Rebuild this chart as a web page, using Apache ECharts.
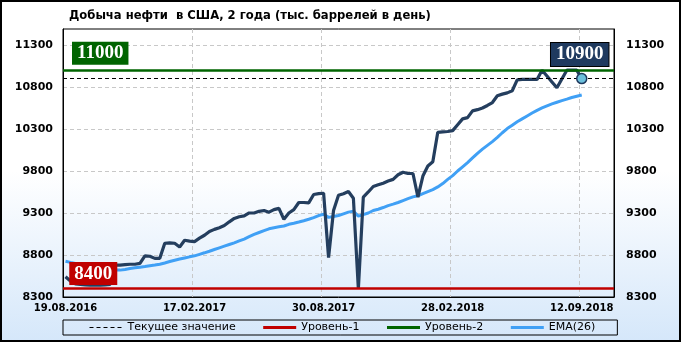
<!DOCTYPE html>
<html><head><meta charset="utf-8">
<script src="https://cdn.jsdelivr.net/npm/echarts@6/dist/echarts.min.js"></script>
<style>html,body{margin:0;padding:0;background:#fff}#c{width:681px;height:342px}</style>
</head><body><div id="c"></div>
<script>
const titleText = 'Добыча нефти  в США, 2 года (тыс. баррелей в день)';
const tickLabels = ['19.08.2016', '17.02.2017', '30.08.2017', '28.02.2018', '12.09.2018'];
const tickStep = 26;
const slotCount = 111;
const yTicks = [8300, 8800, 9300, 9800, 10300, 10800, 11300];
const yMin = 8300, yMax = 11490, yStep = 100;

const production = [
  8540, 8490, 8455, 8450, 8445, 8440, 8440, 8440, 8445, 8450,
  8680, 8680, 8685, 8690, 8690, 8700, 8790, 8785, 8760, 8760,
  8940, 8945, 8940, 8895, 8975, 8965, 8960, 9000, 9035, 9080,
  9105, 9125, 9150, 9195, 9235, 9255, 9265, 9300, 9300, 9320,
  9330, 9310, 9340, 9355, 9225, 9300, 9340, 9425, 9425, 9420,
  9520, 9530, 9535, 8770, 9330, 9510, 9530, 9555, 9475, 8395,
  9490, 9550, 9615, 9635, 9655, 9680, 9700, 9755, 9785, 9770,
  9770, 9490, 9740, 9860, 9910, 10260, 10265, 10270, 10280, 10350,
  10420, 10435, 10515, 10530, 10550, 10580, 10615, 10695, 10715, 10730,
  10755, 10885, 10890, 10890, 10890, 10890, 11000, 10930, 10860, 10790,
  10895, 11000, 11000, 11000, 10900
];
const ema26 = [
  8725, 8712, 8700, 8688, 8675, 8662, 8650, 8640, 8632, 8625,
  8620, 8620, 8628, 8638, 8647, 8655, 8663, 8672, 8680, 8690,
  8705, 8722, 8738, 8752, 8765, 8778, 8790, 8808, 8826, 8845,
  8865, 8885, 8905, 8925, 8945, 8968, 8990, 9018, 9045, 9068,
  9090, 9112, 9125, 9135, 9145, 9165, 9178, 9192, 9208, 9225,
  9245, 9270, 9285, 9248, 9258, 9270, 9290, 9310, 9322, 9262,
  9280, 9300, 9330, 9345, 9365, 9388, 9405, 9425, 9448, 9470,
  9492, 9505, 9530, 9555, 9578, 9610, 9650, 9700, 9745, 9800,
  9850, 9900, 9955, 10010, 10060, 10105, 10150, 10200, 10255, 10305,
  10345, 10385, 10420, 10455, 10490, 10522, 10550, 10575, 10598, 10618,
  10638, 10655, 10675, 10690, 10705
];
const currentValue = 10900;
const level1 = 8400;
const level2 = 11000;

const categories = Array.from({length: slotCount}, (_, i) =>
  (i % tickStep === 0 && tickLabels[i / tickStep]) ? tickLabels[i / tickStep] : String(i));

const lastIdx = production.length - 1;
const chart = echarts.init(document.getElementById('c'), null, {renderer: 'canvas'});

const C_DASH = '#000', C_RED = '#c00000', C_GREEN = '#006400', C_EMA = '#40a0f5', C_MAIN = '#243e5e', C_NAVY = '#1f3a5f';
const hiddenSym = {color: 'rgba(0,0,0,0)', borderWidth: 0, opacity: 0};

const yLabel = {
  color: '#000', fontFamily: 'DejaVu Sans', fontWeight: 'bold', fontSize: 11,
  formatter: v => yTicks.includes(v) ? String(v) : ''
};
const boxLabel = {
  show: true, position: 'inside', formatter: '{c}', color: '#fff',
  fontFamily: 'Liberation Serif', fontWeight: 'bold', fontSize: 19, lineHeight: 19, padding: [2, 5]
};

chart.setOption({
  animation: false,
  backgroundColor: {type: 'linear', x: 0, y: 0, x2: 0, y2: 1,
    colorStops: [{offset: 0, color: '#ffffff'}, {offset: 0.5, color: '#ffffff'}, {offset: 1, color: '#d5e7fa'}]},
  title: {
    text: titleText, left: 64, top: 5,
    textStyle: {fontFamily: 'DejaVu Sans', fontWeight: 'bold', fontSize: 11.6, color: '#000'}
  },
  grid: {left: 63, right: 67, top: 29, bottom: 45, show: true, borderColor: '#000', borderWidth: 1, backgroundColor: 'transparent'},
  legend: {
    data: [
      {name: 'Текущее значение', itemStyle: hiddenSym, lineStyle: {color: C_DASH, width: 1, type: [4, 3]}},
      {name: 'Уровень-1', itemStyle: hiddenSym, lineStyle: {color: C_RED, width: 3, type: 'solid'}},
      {name: 'Уровень-2', itemStyle: hiddenSym, lineStyle: {color: C_GREEN, width: 3, type: 'solid'}},
      {name: 'EMA(26)', itemStyle: hiddenSym, lineStyle: {color: C_EMA, width: 3, type: 'solid'}}
    ],
    itemStyle: hiddenSym,
    left: 63, top: 320, itemWidth: 33, itemHeight: 12, itemGap: 26,
    padding: [2, 22, 2, 26], borderColor: '#000', borderWidth: 1, selectedMode: false,
    textStyle: {fontFamily: 'DejaVu Sans', fontSize: 11, color: '#000'}
  },
  xAxis: {
    type: 'category', data: categories, boundaryGap: true,
    axisLine: {lineStyle: {color: '#000', width: 1}},
    axisTick: {show: false},
    axisLabel: {interval: tickStep - 1, color: '#000', fontFamily: 'DejaVu Sans', fontWeight: 'bold', fontSize: 10, margin: 6},
    splitLine: {show: true, interval: tickStep - 1, lineStyle: {color: '#c8c8c8', type: [4, 3]}}
  },
  yAxis: [
    {type: 'value', position: 'left', min: yMin, max: yMax, interval: yStep,
     axisLine: {show: true, lineStyle: {color: '#000'}}, axisTick: {show: false},
     axisLabel: Object.assign({margin: 10}, yLabel),
     splitLine: {show: true, lineStyle: {color: ['#c8c8c8', 'rgba(0,0,0,0)', 'rgba(0,0,0,0)', 'rgba(0,0,0,0)', 'rgba(0,0,0,0)'], type: [4, 3]}}},
    {type: 'value', position: 'right', min: yMin, max: yMax, interval: yStep,
     axisLine: {show: true, lineStyle: {color: '#000'}}, axisTick: {show: false},
     axisLabel: Object.assign({margin: 12}, yLabel),
     splitLine: {show: false}}
  ],
  series: [
    {name: 'Текущее значение', type: 'line', data: [], symbol: 'none', z: 2,
     itemStyle: {color: C_DASH}, lineStyle: {color: C_DASH, width: 1, type: [4, 3]},
     markLine: {silent: true, symbol: 'none', label: {show: false},
       lineStyle: {color: C_DASH, width: 1, type: [4, 3]}, data: [{yAxis: currentValue}]}},
    {name: 'Уровень-1', type: 'line', data: [], symbol: 'none', z: 2,
     itemStyle: {color: C_RED}, lineStyle: {color: C_RED, width: 3},
     markLine: {silent: true, symbol: 'none', label: {show: false},
       lineStyle: {color: C_RED, width: 2.5, type: 'solid'}, data: [{yAxis: level1}]},
     markPoint: {silent: true, symbol: 'rect', symbolSize: 1, itemStyle: {color: 'rgba(0,0,0,0)'},
       label: Object.assign({}, boxLabel, {backgroundColor: C_RED, offset: [-2, -15]}),
       data: [{coord: [6, level1], value: level1}]}},
    {name: 'Уровень-2', type: 'line', data: [], symbol: 'none', z: 2,
     itemStyle: {color: C_GREEN}, lineStyle: {color: C_GREEN, width: 3},
     markLine: {silent: true, symbol: 'none', label: {show: false},
       lineStyle: {color: C_GREEN, width: 2.5, type: 'solid'}, data: [{yAxis: level2}]},
     markPoint: {silent: true, symbol: 'rect', symbolSize: 1, itemStyle: {color: 'rgba(0,0,0,0)'},
       label: Object.assign({}, boxLabel, {backgroundColor: C_GREEN, offset: [0, -17]}),
       data: [{coord: [7, level2], value: level2}]}},
    {name: 'EMA(26)', type: 'line', data: ema26, symbol: 'none', z: 3,
     itemStyle: {color: C_EMA}, lineStyle: {color: C_EMA, width: 3}},
    {name: 'Добыча', type: 'line', data: production, symbol: 'none', z: 4,
     itemStyle: {color: C_MAIN}, lineStyle: {color: C_MAIN, width: 3.2},
     markPoint: {silent: true, symbol: 'circle', symbolSize: 10,
       itemStyle: {color: '#6cc0dc', borderColor: C_NAVY, borderWidth: 1.5},
       label: Object.assign({}, boxLabel, {backgroundColor: C_NAVY, borderColor: '#000', borderWidth: 1, offset: [-2, -24]}),
       data: [{coord: [lastIdx, production[lastIdx]], value: production[lastIdx]}]}}
  ],
  graphic: [{type: 'rect', silent: true, z: 100,
    shape: {x: 1, y: 1, width: 679, height: 340},
    style: {fill: 'none', stroke: '#000', lineWidth: 2}}]
});
</script></body></html>
